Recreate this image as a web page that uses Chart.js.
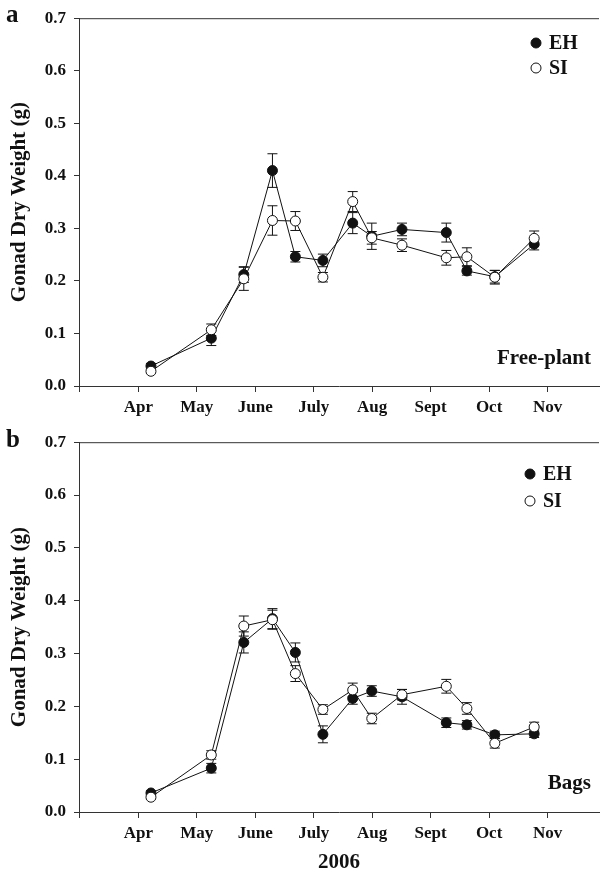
<!DOCTYPE html>
<html>
<head>
<meta charset="utf-8">
<script src="https://cdn.jsdelivr.net/npm/chart.js@4.4.1/dist/chart.umd.min.js"></script>
<style>
	body { margin: 0; background: #fff; }
	#wrap { position: relative; width: 605px; height: 875px; overflow: hidden; }
	canvas { position: absolute; left: 0; }
	#panel-a { top: 0; }
	#panel-b { top: 424px; }
</style>
</head>
<body>
<div id="wrap">
	<canvas id="panel-a" width="605" height="420"></canvas>
	<canvas id="panel-b" width="605" height="451"></canvas>
</div>
<script>
// sampling dates, as month number (4 = 1 Apr)
const sampleMonths = [4.216, 5.248, 5.804, 6.294, 6.686, 7.157, 7.667, 7.993, 8.51, 9.268, 9.62, 10.098, 10.771];

// x axis ticks and labels
const monthTicks = [3, 4, 5, 6, 7, 8, 9, 10, 11];
const monthLabels = ["", "Apr", "May", "June", "July", "Aug", "Sept", "Oct", "Nov"];
const weightTicks = [0, 0.1, 0.2, 0.3, 0.4, 0.5, 0.6, 0.7];

// a - Free-plant
const freeEH = [0.038, 0.091, 0.212, 0.41, 0.246, 0.239, 0.31, 0.285, 0.298, 0.292, 0.219, 0.208, 0.27];
const freeEHErr = [0.005, 0.014, 0.015, 0.032, 0.01, 0.012, 0.02, 0.025, 0.012, 0.018, 0.008, 0.012, 0.011];
const freeSI = [0.028, 0.107, 0.204, 0.315, 0.314, 0.207, 0.351, 0.282, 0.268, 0.244, 0.246, 0.207, 0.281];
const freeSIErr = [0.004, 0.011, 0.022, 0.028, 0.018, 0.009, 0.019, 0.012, 0.012, 0.014, 0.017, 0.013, 0.014];

// b - Bags
const bagsEH = [0.036, 0.083, 0.321, 0.366, 0.302, 0.147, 0.215, 0.229, 0.218, 0.169, 0.165, 0.146, 0.148];
const bagsEHErr = [0.004, 0.009, 0.02, 0.019, 0.018, 0.016, 0.011, 0.01, 0.014, 0.009, 0.008, 0.007, 0.007];
const bagsSI = [0.028, 0.108, 0.352, 0.364, 0.262, 0.194, 0.231, 0.177, 0.222, 0.238, 0.196, 0.13, 0.161];
const bagsSIErr = [0.004, 0.008, 0.019, 0.018, 0.015, 0.009, 0.013, 0.01, 0.01, 0.013, 0.011, 0.009, 0.009];

const serif = "'Liberation Serif', 'Times New Roman', serif";
const ink = "#111";

function toPoints(values) {
	return values.map((v, i) => ({ x: sampleMonths[i], y: v }));
}

// vertical error bars with caps, drawn under the markers
const errorBars = {
	id: "errorBars",
	beforeDatasetsDraw(chart) {
		const ctx = chart.ctx;
		const xs = chart.scales.x;
		const ys = chart.scales.y;
		ctx.save();
		ctx.strokeStyle = ink;
		ctx.lineWidth = 1;
		chart.data.datasets.forEach((ds) => {
			ds.data.forEach((p, i) => {
				const e = ds.errors[i];
				const x = xs.getPixelForValue(p.x);
				const top = ys.getPixelForValue(p.y + e);
				const bot = ys.getPixelForValue(p.y - e);
				ctx.beginPath();
				ctx.moveTo(x, top);
				ctx.lineTo(x, bot);
				ctx.moveTo(x - 5, top);
				ctx.lineTo(x + 5, top);
				ctx.moveTo(x - 5, bot);
				ctx.lineTo(x + 5, bot);
				ctx.stroke();
			});
		});
		ctx.restore();
	},
};

// top frame line, legend, panel letter and note
const decor = {
	id: "decor",
	afterDraw(chart, args, opts) {
		const ctx = chart.ctx;
		const area = chart.chartArea;
		ctx.save();
		ctx.strokeStyle = "#333";
		ctx.lineWidth = 1;
		ctx.beginPath();
		ctx.moveTo(area.left, area.top + 0.5);
		ctx.lineTo(area.right, area.top + 0.5);
		ctx.stroke();

		// legend
		chart.data.datasets
			.slice()
			.reverse()
			.forEach((ds, i) => {
				const y = opts.legendY + i * opts.legendGap;
				ctx.beginPath();
				ctx.arc(opts.legendX, y, 5, 0, Math.PI * 2);
				ctx.fillStyle = ds.pointBackgroundColor;
				ctx.fill();
				ctx.strokeStyle = ink;
				ctx.stroke();
				ctx.fillStyle = ink;
				ctx.font = "bold 20px " + serif;
				ctx.textAlign = "left";
				ctx.textBaseline = "middle";
				ctx.fillText(ds.label, opts.legendX + 13, y + 1);
			});

		ctx.fillStyle = ink;
		ctx.font = "bold 21px " + serif;
		ctx.textAlign = "right";
		ctx.fillText(opts.note, 591, opts.noteY);

		ctx.font = "bold 25px " + serif;
		ctx.textAlign = "left";
		ctx.fillText(opts.letter, 6, opts.letterY);
		ctx.restore();
	},
};

function makePanel(canvasId, eh, ehErr, si, siErr, cfg) {
	return new Chart(document.getElementById(canvasId), {
		type: "line",
		data: {
			datasets: [
				{
					label: "SI",
					data: toPoints(si),
					errors: siErr,
					order: 0,
					borderColor: ink,
					borderWidth: 1,
					pointRadius: 5,
					pointBorderWidth: 1,
					pointBorderColor: ink,
					pointBackgroundColor: "#fff",
				},
				{
					label: "EH",
					data: toPoints(eh),
					errors: ehErr,
					order: 1,
					borderColor: ink,
					borderWidth: 1,
					pointRadius: 5,
					pointBorderWidth: 1,
					pointBorderColor: ink,
					pointBackgroundColor: ink,
				},
			],
		},
		options: {
			responsive: false,
			animation: false,
			layout: { padding: { top: cfg.padTop, left: 0, right: 0, bottom: 0 } },
			scales: {
				x: {
					type: "linear",
					min: 2.985,
					max: 11.88,
					afterBuildTicks: (scale) => {
						scale.ticks = monthTicks.map((v) => ({ value: v }));
					},
					afterFit: (scale) => {
						scale.height = cfg.xHeight;
					},
					ticks: {
						padding: 5,
						color: ink,
						font: { family: serif, size: 17, weight: "bold" },
						callback: (v) => monthLabels[monthTicks.indexOf(v)],
					},
					grid: { drawOnChartArea: false, tickLength: 6, color: "#333" },
					border: { color: "#333", width: 1 },
					title: {
						display: cfg.showYear,
						text: "2006",
						color: ink,
						font: { family: serif, size: 21, weight: "bold" },
						padding: { top: 0, bottom: 0 },
					},
				},
				y: {
					min: 0,
					max: 0.7,
					afterBuildTicks: (scale) => {
						scale.ticks = weightTicks.map((v) => ({ value: v }));
					},
					afterFit: (scale) => {
						scale.width = 79;
					},
					ticks: {
						padding: 8,
						color: ink,
						font: { family: serif, size: 17, weight: "bold" },
						callback: (v) => v.toFixed(1),
					},
					grid: { drawOnChartArea: false, tickLength: 5, color: "#333" },
					border: { color: "#333", width: 1 },
					title: {
						display: true,
						text: "Gonad Dry Weight (g)",
						color: ink,
						font: { family: serif, size: 21, weight: "bold" },
						padding: { top: 7, bottom: 0 },
					},
				},
			},
			plugins: {
				legend: { display: false },
				tooltip: { enabled: false },
				decor: cfg.decor,
			},
		},
		plugins: [errorBars, decor],
	});
}

const chartA = makePanel("panel-a", freeEH, freeEHErr, freeSI, freeSIErr, {
	padTop: 14,
	xHeight: 34,
	showYear: false,
	decor: { letter: "a", letterY: 16, note: "Free-plant", noteY: 359, legendX: 536, legendY: 43, legendGap: 25 },
});

const chartB = makePanel("panel-b", bagsEH, bagsEHErr, bagsSI, bagsSIErr, {
	padTop: 15,
	xHeight: 63,
	showYear: true,
	decor: { letter: "b", letterY: 17, note: "Bags", noteY: 360, legendX: 530, legendY: 50, legendGap: 27 },
});
</script>
</body>
</html>
